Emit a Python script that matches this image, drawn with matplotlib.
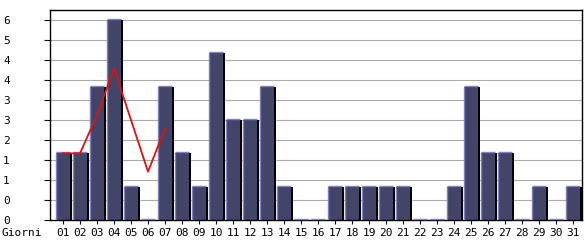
import numpy as np
import matplotlib
matplotlib.use("Agg")
import matplotlib.pyplot as plt

# data
days = ["01", "02", "03", "04", "05", "06", "07", "08", "09", "10",
        "11", "12", "13", "14", "15", "16", "17", "18", "19", "20",
        "21", "22", "23", "24", "25", "26", "27", "28", "29", "30", "31"]
visits = [2, 2, 4, 6, 1, 0, 4, 2, 1, 5,
          3, 3, 4, 1, 0, 0, 1, 1, 1, 1,
          1, 0, 0, 1, 4, 2, 2, 0, 1, 0, 1]
trend_days = ["01", "02", "03", "04", "05", "06", "07"]
trend = [2.0, 2.0, 3.15, 4.55, 3.0, 1.45, 2.75]
ytick_vals = [0, 0.6, 1.2, 1.8, 2.4, 3.0, 3.6, 4.2, 4.8, 5.4, 6.0]

face = "#424468"
light = "#8080c0"
shadow = "#000000"
w = 0.88

fig = plt.figure(figsize=(5.85, 2.4), dpi=100)
ax = fig.add_axes([50 / 585, 20 / 240, 532 / 585, 210 / 240])

x = np.arange(len(days))
vals = np.array(visits, dtype=float)

ax.set_xlim(-0.765, len(days) - 1 + 0.53)
ax.set_ylim(0, 6.3)

# grid
for v in ytick_vals[1:]:
    ax.axhline(v, color="#ababab", lw=0.8, zorder=0)

# bars: shadow, face, light left/top edges
ax.bar(x + 0.1, vals, width=w, align="center", color=shadow, zorder=1)
ax.bar(x, vals, width=w, align="center", color=face, zorder=2)
ax.vlines(x - w / 2, 0, vals, color=light, lw=1.0, zorder=3)
ax.hlines(vals + 0.03, x - w / 2, x + w / 2, color=light, lw=1.0, zorder=3,
          clip_on=False)

# trend line
tx = [days.index(d) for d in trend_days]
ax.plot(tx, trend, color="#e01010", lw=1.3, zorder=4)

for s in ax.spines.values():
    s.set_color("black")
    s.set_linewidth(1.0)

ax.set_yticks(ytick_vals)
ax.set_yticklabels([str(int(np.floor(v + 1e-9))) for v in ytick_vals])
ax.tick_params(axis="y", length=4, width=0.8, pad=25, labelsize=8)
for lab in ax.get_yticklabels():
    lab.set_family("DejaVu Sans Mono")

ax.set_xticks(x)
ax.set_xticklabels(days)
ax.tick_params(axis="x", length=3, width=0.8, pad=2.5, labelsize=8)
for lab in ax.get_xticklabels():
    lab.set_family("DejaVu Sans Mono")

fig.text(2 / 585, 1 - 233 / 240, "Giorni", fontsize=8, family="DejaVu Sans Mono",
         ha="left", va="center")

fig.savefig("out.png", dpi=100, facecolor="white")
